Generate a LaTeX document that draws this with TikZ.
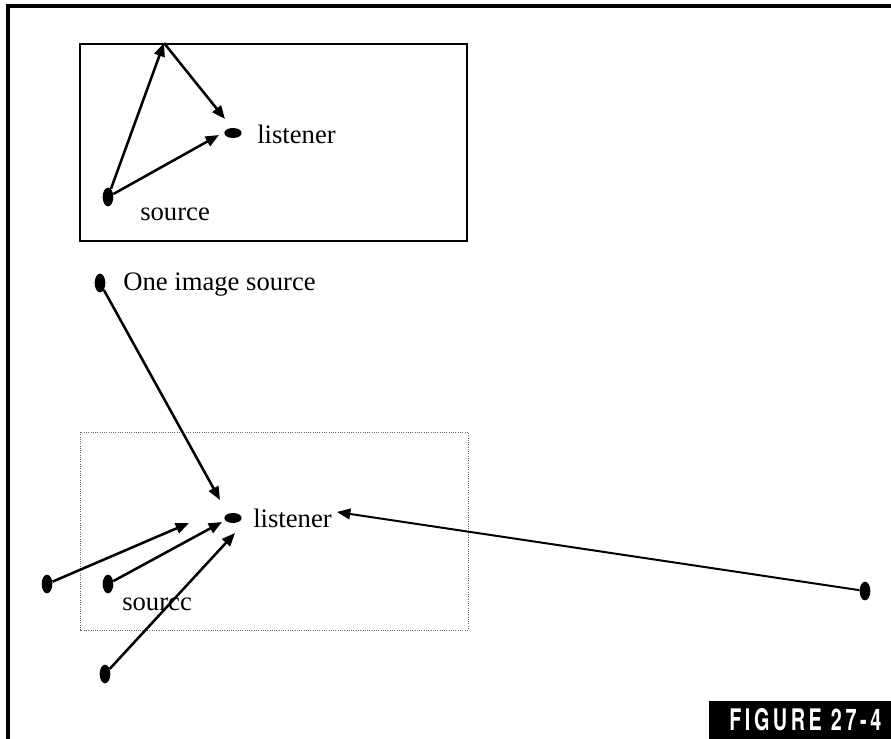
\documentclass[tikz,border=0pt]{standalone}
\usepackage{fontspec}
\setmainfont{Liberation Serif}
\newfontfamily\figfont[LetterSpace=18]{TeX Gyre Heros}
\usetikzlibrary{shapes.geometric,arrows.meta}
\begin{document}
\begin{tikzpicture}[x=0.75pt,y=-0.75pt,
  vdot/.style={ellipse,fill=black,inner sep=0pt,minimum width=8pt,minimum height=14pt},
  hdot/.style={ellipse,fill=black,inner sep=0pt,minimum width=13pt,minimum height=7.5pt},
  ray/.style={line width=1.9pt,-{Triangle[length=10pt,width=8pt]}},
  lbl/.style={anchor=base west,inner sep=0pt,font=\fontsize{20}{24}\selectfont},
  frame/.style={line width=2.8pt},
  roombox/.style={line width=1.4pt},
  dotbox/.style={densely dotted,line width=0.7pt,draw=black!60}]
\useasboundingbox (0,0) rectangle (891,738);
% outer frame
\draw[frame] (8,745) -- (8,6) -- (900,6);
% figure label
\fill[black] (709,701) rectangle (895,740);
\node[anchor=base west,inner sep=0pt,text=white] (fig) at (729,730)
  {\resizebox{114pt}{16.5pt}{\figfont\bfseries FIGURE 27-4}};
% top room
\draw[roombox] (80,44) rectangle (467,241);
\node[vdot] (s1) at (108,197) {};
\node[hdot] (l1) at (233,133) {};
\coordinate (apex) at (164,43);
\coordinate (t1) at (225,119);
\coordinate (t2) at (219,135);
\draw[ray] (s1) -- (apex);
\draw[ray] (apex) -- (t1);
\draw[ray] (s1) -- (t2);
\node[lbl] (ltxt1) at (257,143) {listener};
\node[lbl] (stxt1) at (140,220) {source};
% image source
\node[vdot] (img) at (100,283) {};
\node[lbl] (itxt) at (123,290) {One image source};
% bottom room
\draw[dotbox] (80,432) rectangle (468,630);
\node[hdot] (l2) at (233,518) {};
\node[lbl] (ltxt2) at (253,527) {listener};
\node[lbl] (stxt2) at (122,610) {sourcc};
\node[vdot] (d1) at (47,584) {};
\node[vdot] (d2) at (108,584) {};
\node[vdot] (d3) at (105,674) {};
\node[vdot] (d4) at (865,591) {};
\coordinate (u0) at (220,500);
\coordinate (u1) at (189,523);
\coordinate (u2) at (222,522);
\coordinate (u3) at (235,533);
\coordinate (u4) at (337,512);
\draw[ray] (img) -- (u0);
\draw[ray] (d1) -- (u1);
\draw[ray] (d2) -- (u2);
\draw[ray] (d3) -- (u3);
\draw[ray,line width=1.5pt] (d4) -- (u4);
\end{tikzpicture}
\end{document}
